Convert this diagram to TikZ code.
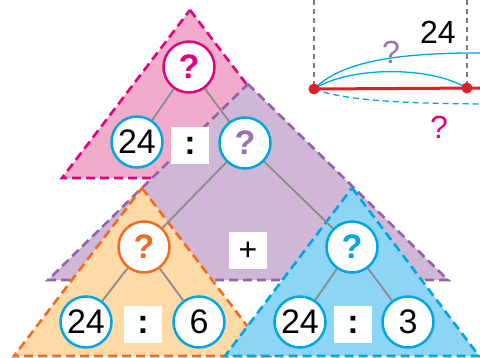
\documentclass[tikz,border=0pt]{standalone}
\usepackage{fontspec}
\setmainfont{Liberation Sans}
\definecolor{mag}{HTML}{E5007D}
\definecolor{cyn}{HTML}{00A6E2}
\definecolor{purp}{HTML}{9C6FAE}
\definecolor{purpd}{HTML}{9561A8}
\definecolor{orng}{HTML}{F26B21}
\definecolor{pinkf}{HTML}{F1ACCB}
\definecolor{purpf}{HTML}{D0B7D8}
\definecolor{orngf}{HTML}{FDDAA6}
\definecolor{bluef}{HTML}{8DD5F5}
\definecolor{redl}{HTML}{E41E26}
\definecolor{lgray}{HTML}{8C8C8C}
\definecolor{dgray}{HTML}{7A7A7A}
\pgfdeclarelayer{trilayer}
\pgfdeclarelayer{linklayer}
\pgfsetlayers{trilayer,linklayer,main}
\begin{document}
\begin{tikzpicture}[x=1pt,y=-1pt,
  tri/.style={line width=2.6pt, dash pattern=on 9pt off 5pt},
  circ/.style={circle, fill=white, draw=cyn, line width=2.5pt, minimum size=51pt, inner sep=0pt, font=\fontsize{34}{34}\selectfont},
  qm/.style={circ, font=\fontsize{34}{34}\selectfont\bfseries},
  opbox/.style={fill=white, minimum width=38pt, minimum height=37pt, inner sep=0pt, font=\fontsize{34}{34}\selectfont\bfseries},
  plusbox/.style={opbox, font=\fontsize{32}{32}\selectfont},
  link/.style={draw=lgray, line width=1.8pt},
  dot/.style={circle, fill=redl, minimum size=11pt, inner sep=0pt},
  lbl/.style={font=\fontsize{32}{32}\selectfont, inner sep=0pt}
]
\clip (0,0) rectangle (480,358);
% triangles
\begin{pgfonlayer}{trilayer}
\draw[tri, draw=mag, fill=pinkf] (190,10) -- (318,178) -- (62,178) -- cycle;
\draw[tri, draw=purpd, fill=purpf] (248,84) -- (448,280) -- (48,280) -- cycle;
\draw[tri, draw=orng, fill=orngf] (142,188) -- (270,356) -- (14,356) -- cycle;
\draw[tri, draw=cyn, fill=bluef] (352,188) -- (479,356) -- (225,356) -- cycle;
\end{pgfonlayer}
% nodes
\node[qm, draw=mag, text=mag] (pq) at (189,67) {?};
\node[circ] (p24) at (137,142) {24};
\node[opbox] (pcol) at (190,146) {:};
\node[qm, text=purp] (mq) at (245,143) {?};
\node[qm, draw=orng, text=orng] (oq) at (144,247) {?};
\node[circ] (o24) at (86,322) {24};
\node[opbox] (ocol) at (143,325) {:};
\node[circ] (o6) at (199,322) {6};
\node[qm, text=cyn] (bq) at (352,247) {?};
\node[circ] (b24) at (300,322) {24};
\node[opbox] (bcol) at (353,325) {:};
\node[circ] (b3) at (408,322) {3};
\node[plusbox] (plus) at (248,251) {+};
% connectors
\begin{pgfonlayer}{linklayer}
\path[link] (pq) -- (p24) (pq) -- (mq) (mq) -- (oq) (mq) -- (bq)
  (oq) -- (o24) (oq) -- (o6) (bq) -- (b24) (bq) -- (b3);
\end{pgfonlayer}
% segment diagram
\coordinate (ta) at (314,0);
\coordinate (tb) at (467,0);
\coordinate (re) at (482,88);
\coordinate (ue) at (500,53);
\coordinate (de) at (500,104);
\node[dot] (A) at (314,89) {};
\node[dot] (B) at (467,88) {};
\begin{pgfonlayer}{linklayer}
\draw[dgray, line width=1.4pt, dash pattern=on 5pt off 4pt] (ta) -- (A.center) (tb) -- (B.center);
\draw[redl, line width=3pt] (A.center) -- (re);
\draw[cyn, line width=1.3pt] (A.center) .. controls (350,66) and (430,66) .. (B.center);
\draw[cyn, line width=1.3pt] (A.center) .. controls (345,58) and (410,52) .. (ue);
\draw[cyn, line width=1.3pt, dash pattern=on 6pt off 4pt] (A.center) .. controls (345,101) and (410,104) .. (de);
\end{pgfonlayer}
\node[lbl] (t24) at (438,32) {24};
\node[lbl, text=purp] (tq1) at (391,52) {?};
\node[lbl, text=mag] (tq2) at (439,127) {?};
\end{tikzpicture}
\end{document}
